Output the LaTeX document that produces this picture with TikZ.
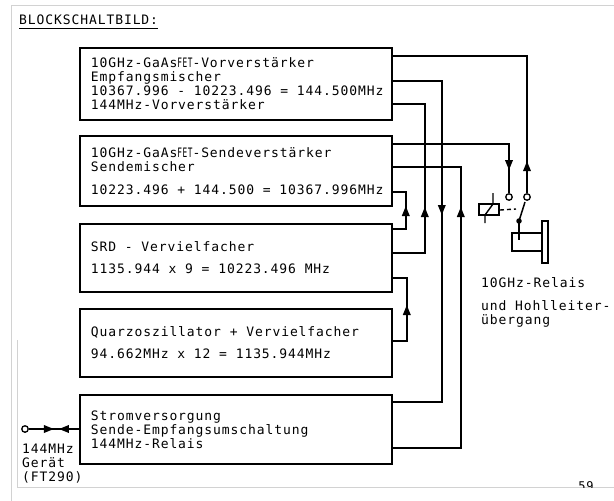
\documentclass[tikz,border=0pt]{standalone}
\usepackage{graphicx}
\usepackage{fontspec}
\setmainfont{DejaVu Sans Mono}[LetterSpace=7]
\usetikzlibrary{arrows.meta,decorations.markings}
\newcommand{\bodyfont}{\fontsize{13}{14}\selectfont}
\newcommand{\ws}{\hspace{8.74pt}}
\tikzset{
  txt/.style={font=\bodyfont, inner sep=0pt, align=left},
  blk/.style={draw, line width=1.8pt, rectangle, anchor=north west, minimum height=#1,
    text width=290pt, inner xsep=11pt, inner ysep=0pt, align=left,
    font=\bodyfont},
  conn/.style={line width=1.8pt},
  thin/.style={line width=1.4pt},
  port/.style={circle, draw, fill=white, line width=1.3pt, minimum size=6.5pt, inner sep=0pt},
  pivotdot/.style={circle, fill=black, minimum size=5.5pt, inner sep=0pt},
  frameline/.style={gray!35, line width=0.8pt},
  midarrow/.style={postaction={decorate, decoration={markings,
    mark=at position #1 with {\arrow{Triangle[length=10pt,width=7.5pt]}}}}},
  twoarrows/.style 2 args={postaction={decorate, decoration={markings,
    mark=at position #1 with {\arrow{Triangle[length=10pt,width=7.5pt]}},
    mark=at position #2 with {\arrowreversed{Triangle[length=10pt,width=7.5pt]}}}}}
}
\newcommand{\fetsmall}{\scalebox{0.6}[1]{FET}}
\begin{document}
\begin{tikzpicture}[x=1pt,y=-1pt]
\useasboundingbox (0,0) rectangle (614,501);
% page frame
\draw[frameline] (614,5) -- (11,5) -- (11,501);
\draw[frameline] (17,340) -- (17,487) -- (614,487);

% title
\node[txt, anchor=west] (title) at (19,20) {BLOCKSCHALTBILD:};
\draw[line width=1pt] ([yshift=-3pt]title.south west) -- ([yshift=-3pt]title.south east);

% blocks
\node[blk=72pt] (b1) at (79,47) {10GHz-GaAs\fetsmall-Vorverstärker\\Empfangsmischer\\\mbox{10367.996\ws-\ws10223.496\ws=\ws144.500MHz}\\144MHz-Vorverstärker};
\node[blk=70pt] (b2) at (79,135) {10GHz-GaAs\fetsmall-Sendeverstärker\\Sendemischer\\[9pt]\mbox{10223.496\ws+\ws144.500\ws=\ws10367.996MHz}};
\node[blk=68pt] (srd) at (79,223) {\mbox{SRD\ws-\ws Vervielfacher}\\[8pt]\mbox{1135.944\ws x\ws 9\ws=\ws10223.496\ws MHz}};
\node[blk=68pt] (quarz) at (79,308) {\mbox{Quarzoszillator\ws+\ws Vervielfacher}\\[8pt]\mbox{94.662MHz\ws x\ws 12\ws=\ws1135.944MHz}};
\node[blk=69pt] (power) at (79,394) {Stromversorgung\\Sende-Empfangsumschaltung\\144MHz-Relais};

% relay contacts
\node[port] (c1) at (509,197) {};
\node[port] (c2) at (527,197) {};

% connectors
\draw[conn, midarrow=32pt] (c2) |- ([yshift=-9pt]b1.north east);
\draw[conn, midarrow=-23pt] ([yshift=-9pt]b2.north east) -| (c1);
\draw[conn, midarrow=183pt] ([yshift=-34pt]b1.north east) -- ++(49,0) |- ([yshift=-8pt]power.north east);
\draw[conn, midarrow=78pt] ([yshift=-30pt]srd.north east) -- ++(32,0) |- ([yshift=-57pt]b1.north east);
\draw[conn, midarrow=309pt] ([yshift=-54pt]power.north east) -- ++(68,0) |- ([yshift=-32pt]b2.north east);
\draw[conn, midarrow=36pt] ([yshift=-6pt]srd.north east) -- ++(13,0) |- ([yshift=-57pt]b2.north east);
\draw[conn, midarrow=50pt] ([yshift=-33pt]quarz.north east) -- ++(14,0) |- ([yshift=-55pt]srd.north east);

% 144 MHz port
\node[port] (p144) at (25,429) {};
\draw[conn, twoarrows={25pt}{30pt}] (p144) -- ([yshift=-35pt]power.north west);
\node[txt, anchor=west] (geraet) at (22,464) {144MHz\\Gerät\\(FT290)};

% relay coil and switch
\draw[thin] (479,204) rectangle (499,215);
\draw[thin] (493,193) -- (493,204) -- (485,215) -- (485,223);
\draw[thin, dash pattern=on 4pt off 3pt] (500,210) -- (516,209);
% waveguide transition
\draw[conn] (519,221) -- (519,240);
\draw[conn] (512,233) rectangle (542,251);
\draw[conn] (542,221) rectangle (548,263);
\node[pivotdot] (pivot) at (519,221) {};
\draw[line width=1.5pt] (pivot.center) -- (525,202);
\node[txt, anchor=west] (relaistext) at (481,302) {10GHz-Relais\\[9pt]\mbox{und\ws Hohlleiter-}\\übergang};

% page number
\begin{scope}
\clip (560,470) rectangle (614,487);
\node[font=\fontsize{12}{12}\selectfont, inner sep=0pt] (pagenum) at (586,486) {59};
\end{scope}
\end{tikzpicture}
\end{document}
